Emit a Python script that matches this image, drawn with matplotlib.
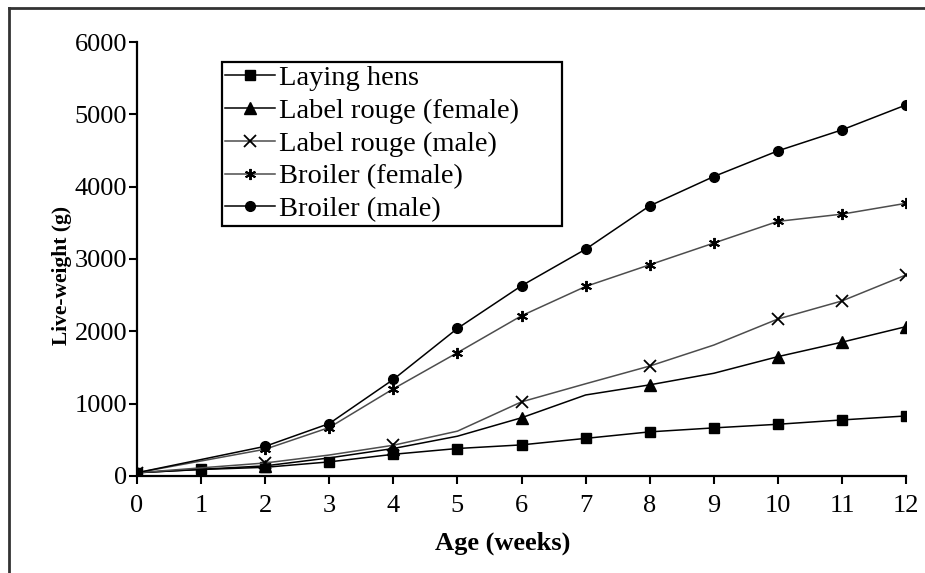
import matplotlib
matplotlib.use("Agg")
import matplotlib.pyplot as plt
from matplotlib.lines import Line2D

# weeks and live-weight (g)
weeks = [0, 1, 2, 3, 4, 5, 6, 7, 8, 9, 10, 11, 12]
laying_hens = [45, 90, 120, 195, 300, 380, 430, 520, 610, 665, 715, 775, 830]

lr_weeks = [0, 2, 3, 4, 5, 6, 7, 8, 9, 10, 11, 12]
label_rouge_female = [45, 140, 250, 380, 550, 805, 1120, 1260, 1420, 1650, 1850, 2065]
label_rouge_male = [45, 180, 290, 425, 620, 1025, 1275, 1520, 1810, 2170, 2420, 2780]

br_weeks = [0, 2, 3, 4, 5, 6, 7, 8, 9, 10, 11, 12]
broiler_female = [45, 370, 670, 1205, 1705, 2215, 2620, 2920, 3220, 3520, 3620, 3770]
broiler_male = [45, 410, 725, 1335, 2040, 2630, 3135, 3735, 4140, 4495, 4785, 5130]

xticks = list(range(0, 13))
yticks = [0, 1000, 2000, 3000, 4000, 5000, 6000]

plt.rcParams['font.family'] = ['Liberation Serif', 'DejaVu Serif']


def main():
  fig = plt.figure(figsize=(9.25, 5.73), dpi=100)
  ax = fig.add_axes([0.1481, 0.1693, 0.8314, 0.7574])

  # Label rouge series only carry markers on some weeks
  lr_marks = [0, 1, 3, 5, 7, 9, 10, 11]

  ax.plot(weeks, laying_hens, color='black', lw=1.1, marker='s', ms=7.5,
          label='Laying hens')
  ax.plot(lr_weeks, label_rouge_female, color='black', lw=1.1, marker='^',
          ms=8, markevery=lr_marks, label='Label rouge (female)')
  ax.plot(lr_weeks, label_rouge_male, color='0.3', lw=1.1, marker='x', ms=8,
          mew=1.3, mec='black', markevery=lr_marks, label='Label rouge (male)')
  ax.plot(br_weeks, broiler_female, color='0.3', lw=1.1, marker=(6, 2, 0),
          ms=8, mew=1.4, mec='black', label='Broiler (female)')
  ax.plot(br_weeks, broiler_male, color='black', lw=1.1, marker='o', ms=7,
          label='Broiler (male)')

  ax.set_xlim(0, 12)
  ax.set_ylim(0, 6000)
  ax.set_xticks(xticks)
  ax.set_yticks(yticks)
  ax.spines['top'].set_visible(False)
  ax.spines['right'].set_visible(False)
  for s in ('left', 'bottom'):
    ax.spines[s].set_linewidth(1.6)
  ax.tick_params(axis='both', labelsize=19, width=1.5, length=6, direction='out')
  ax.tick_params(axis='y', pad=1)
  ax.tick_params(axis='x', pad=8)

  ax.set_xlabel('Age (weeks)', fontsize=19, fontweight='bold')
  ax.set_ylabel('Live-weight (g)', fontsize=15.5, fontweight='bold')
  ax.xaxis.set_label_coords(0.475, -0.127)
  ax.yaxis.set_label_coords(-0.084, 0.463)

  leg = ax.legend(loc='upper left', bbox_to_anchor=(0.1105, 0.954, 0.442, 0.0),
                  mode='expand', fontsize=20.5, frameon=True, fancybox=False,
                  framealpha=1, edgecolor='black', handlelength=1.75,
                  handletextpad=0.15, labelspacing=0.24, borderpad=0.12,
                  borderaxespad=0)
  leg.get_frame().set_linewidth(1.6)

  # outer frame of the scanned figure (left and top edges)
  fig.add_artist(Line2D([8.5 / 925, 8.5 / 925], [0, 1 - 7.5 / 573],
                        transform=fig.transFigure, color='0.2', lw=2))
  fig.add_artist(Line2D([8.5 / 925, 1], [1 - 7.5 / 573, 1 - 7.5 / 573],
                        transform=fig.transFigure, color='0.2', lw=2))

  fig.savefig('out.png', dpi=100)


if __name__ == '__main__':
  main()
